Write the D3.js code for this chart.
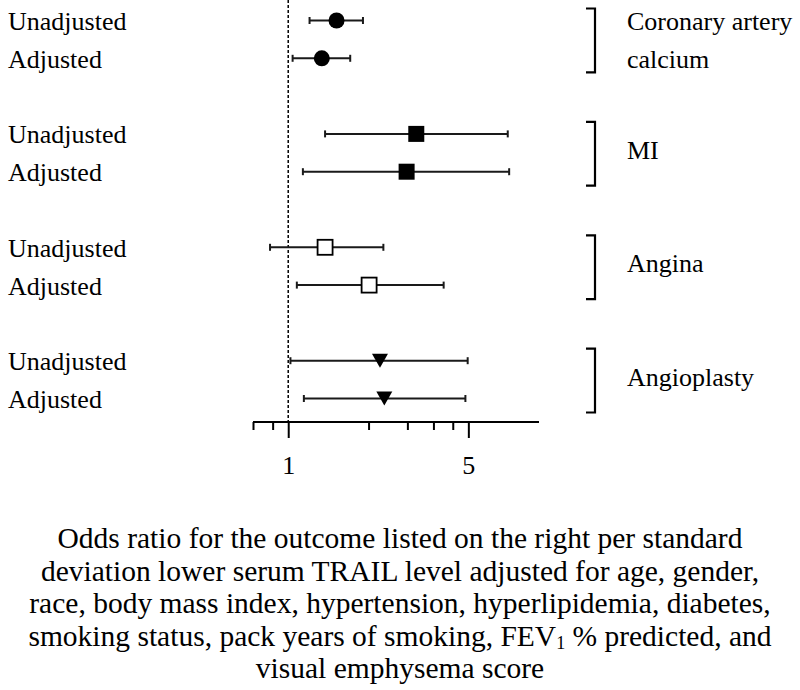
<!DOCTYPE html>
<html>
<head>
<meta charset="utf-8">
<script src="https://cdn.jsdelivr.net/npm/d3@7"></script>
<style>
  html, body { margin: 0; padding: 0; background: #fff; }
  svg { display: block; }
  text { font-family: "Times New Roman", "Liberation Serif", serif; fill: #000; }
</style>
</head>
<body>
<svg id="chart" width="800" height="690"></svg>
<script>
// ---- data ----
const outcomeLabels = [["Coronary artery", "calcium"], ["MI"], ["Angina"], ["Angioplasty"]];
const modelLabels = ["Unadjusted", "Adjusted"];
const markerTypes = ["filledCircle", "filledSquare", "openSquare", "downTriangle"];
const oddsRatio = [1.54, 1.35, 3.14, 2.88, 1.39, 2.06, 2.27, 2.36];
const ciLower   = [1.21, 1.04, 1.39, 1.14, 0.85, 1.08, 1.02, 1.15];
const ciUpper   = [1.95, 1.74, 7.11, 7.20, 2.34, 4.01, 4.97, 4.87];
const majorTicks = [1, 5];
const minorTicks = [0.73, 0.87, 2.05, 2.9, 3.66, 4.35];
const axisDomain = [0.73, 9.4];
const captionLines = [
  ["Odds ratio for the outcome listed on the right per standard"],
  ["deviation lower serum TRAIL level adjusted for age, gender,"],
  ["race, body mass index, hypertension, hyperlipidemia, diabetes,"],
  ["smoking status, pack years of smoking, FEV", "1", " % predicted, and"],
  ["visual emphysema score"]
];

// ---- build rows ----
const rows = oddsRatio.map((or, i) => ({
  group: Math.floor(i / 2),
  model: i % 2,
  or, lo: ciLower[i], hi: ciUpper[i],
  slot: Math.floor(i / 2) * 3 + (i % 2)
}));

const svg = d3.select("#chart");
const x = d3.scaleLog().domain(axisDomain).range([253, 539]);
const y = d3.scaleLinear().domain([0, 10]).range([20.5, 398.5]);
const axisY = 422;

// reference dashed line at OR = 1
svg.append("line")
  .attr("x1", x(1)).attr("x2", x(1))
  .attr("y1", 0).attr("y2", axisY)
  .attr("stroke", "#000").attr("stroke-width", 1.5)
  .attr("stroke-dasharray", "3,2");

// axis
const axisG = svg.append("g").attr("transform", `translate(0,${axisY})`);
axisG.append("g")
  .call(d3.axisBottom(x).tickValues(minorTicks).tickSize(8).tickFormat(""))
  .call(g => g.select(".domain").remove())
  .call(g => g.selectAll("line").attr("stroke", "#000").attr("stroke-width", 2));
axisG.append("g")
  .call(d3.axisBottom(x).tickValues(majorTicks).tickSize(16).tickSizeOuter(0).tickPadding(18).tickFormat(d3.format("d")))
  .call(g => g.select(".domain").attr("stroke", "#000").attr("stroke-width", 2.2).attr("d", `M${x.range()[0]},0H${x.range()[1]}`))
  .call(g => g.selectAll("line").attr("stroke", "#000").attr("stroke-width", 2))
  .call(g => g.selectAll("text").attr("font-size", 26).attr("font-family", '"Times New Roman","Liberation Serif",serif').attr("fill", "#000"));

// error bars
const capH = 7;
const bars = svg.append("g").selectAll("g").data(rows).join("g");
bars.append("line")
  .attr("x1", d => x(d.lo)).attr("x2", d => x(d.hi))
  .attr("y1", d => y(d.slot)).attr("y2", d => y(d.slot))
  .attr("stroke", "#1a1a1a").attr("stroke-width", 2);
bars.append("line")
  .attr("x1", d => x(d.lo)).attr("x2", d => x(d.lo))
  .attr("y1", d => y(d.slot) - capH / 2).attr("y2", d => y(d.slot) + capH / 2)
  .attr("stroke", "#1a1a1a").attr("stroke-width", 2);
bars.append("line")
  .attr("x1", d => x(d.hi)).attr("x2", d => x(d.hi))
  .attr("y1", d => y(d.slot) - capH / 2).attr("y2", d => y(d.slot) + capH / 2)
  .attr("stroke", "#1a1a1a").attr("stroke-width", 2);

// markers
bars.each(function(d) {
  const g = d3.select(this);
  const cx = x(d.or), cy = y(d.slot);
  const t = markerTypes[d.group];
  if (t === "filledCircle") {
    g.append("circle").attr("cx", cx).attr("cy", cy).attr("r", 8).attr("fill", "#000");
  } else if (t === "filledSquare") {
    g.append("rect").attr("x", cx - 8).attr("y", cy - 8).attr("width", 16).attr("height", 16).attr("fill", "#000");
  } else if (t === "openSquare") {
    g.append("rect").attr("x", cx - 7.5).attr("y", cy - 7.5).attr("width", 15).attr("height", 15)
      .attr("fill", "#fff").attr("stroke", "#000").attr("stroke-width", 1.8);
  } else {
    const p = d3.path();
    p.moveTo(cx - 8, cy - 7); p.lineTo(cx + 8, cy - 7); p.lineTo(cx, cy + 7); p.closePath();
    g.append("path").attr("d", p.toString()).attr("fill", "#000");
  }
});

// left row labels
svg.append("g").selectAll("text").data(rows).join("text")
  .attr("x", 8).attr("y", d => y(d.slot) + 9.5)
  .attr("font-size", 26)
  .text(d => modelLabels[d.model]);

// brackets and outcome labels
const groups = outcomeLabels.map((lab, gi) => ({ lab, top: y(gi * 3) - 12, bottom: y(gi * 3 + 1) + 14, mid: (y(gi * 3) + y(gi * 3 + 1)) / 2, first: y(gi * 3), second: y(gi * 3 + 1) }));
const bx = 595, arm = 9;
svg.append("g").selectAll("path").data(groups).join("path")
  .attr("d", d => `M${bx - arm},${d.top}H${bx}V${d.bottom}H${bx - arm}`)
  .attr("fill", "none").attr("stroke", "#000").attr("stroke-width", 2.2);
const gl = svg.append("g").selectAll("text").data(groups).join("text")
  .attr("x", 627).attr("font-size", 26);
gl.each(function(d) {
  const t = d3.select(this);
  if (d.lab.length === 2) {
    t.append("tspan").attr("x", 627).attr("y", d.first + 9.5).text(d.lab[0]);
    t.append("tspan").attr("x", 627).attr("y", d.second + 9.5).text(d.lab[1]);
  } else {
    t.append("tspan").attr("x", 627).attr("y", d.mid + 6).text(d.lab[0]);
  }
});

// caption (x-axis title)
const cap = svg.append("g").selectAll("text").data(captionLines).join("text")
  .attr("x", 400).attr("y", (d, i) => 548 + i * 32.5)
  .attr("text-anchor", "middle").attr("font-size", 29.5);
cap.each(function(parts) {
  const t = d3.select(this);
  parts.forEach((s, j) => {
    const ts = t.append("tspan").text(s);
    if (parts.length === 3 && j === 1) ts.attr("font-size", 18).attr("dy", 3);
    if (parts.length === 3 && j === 2) ts.attr("dy", -3);
  });
});
</script>
</body>
</html>
